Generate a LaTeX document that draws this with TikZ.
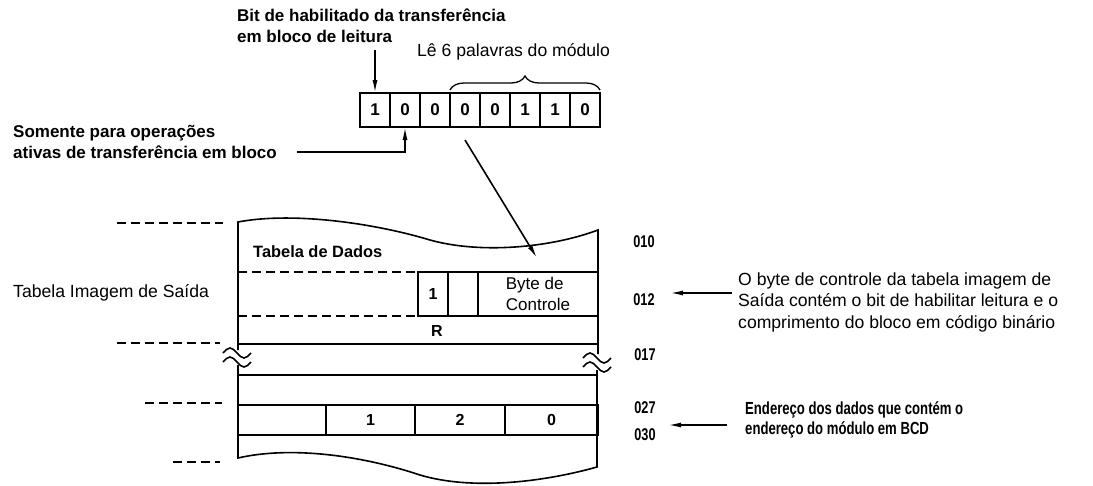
\documentclass[tikz,border=0pt]{standalone}
\usepackage{fontspec}
\setmainfont{Liberation Sans}
\newfontfamily\condfont[FakeStretch=0.75]{Liberation Sans}
\usetikzlibrary{arrows.meta, positioning, calc, decorations.pathreplacing}
\tikzset{
  note/.style={inner sep=0pt, align=left, anchor=west,
               font=\fontsize{17.6}{21.5}\selectfont},
  bnote/.style={note, font=\fontsize{17}{21}\selectfont\bfseries},
  cnote/.style={note, font=\fontsize{17.5}{20}\selectfont\condfont\bfseries},
  addr/.style={inner sep=0pt, font=\fontsize{17}{17}\selectfont\condfont\bfseries},
  bitbox/.style={draw, line width=1.6pt, minimum width=30pt, minimum height=34pt,
                 inner sep=0pt, outer sep=0pt, font=\fontsize{17}{17}\selectfont\bfseries},
  cell/.style={draw, line width=1.6pt, minimum height=30pt, inner sep=0pt, outer sep=0pt,
               font=\fontsize{16}{16}\selectfont\bfseries},
  arrow/.style={-{Latex[length=13pt,width=5pt]}, line width=1.6pt},
  rule/.style={line width=1.6pt},
  dashmark/.style={line width=1.6pt, dash pattern=on 9pt off 5pt},
  breakmark/.pic={
    \draw[line width=1.6pt] (-14,0) sin (-7,-5) cos (0,0) sin (7,5) cos (14,0);
    \draw[line width=1.6pt] (-14,9) sin (-7,4) cos (0,9) sin (7,14) cos (14,9);
  },
}

\begin{document}
\begin{tikzpicture}[x=1pt, y=-1pt]
  \useasboundingbox (0,0) rectangle (1093,485);

  % control word
  \foreach \v [count=\i] in {1,0,0,0,0,1,1,0}
    \node[bitbox] (b\i) at (345+30*\i,110) {\v};
  \draw[decorate, decoration={brace, amplitude=14pt}, line width=1.3pt]
    ([yshift=3pt]b4.north west) -- ([yshift=3pt]b8.north east);

  \node[bnote] (bitnote) at (237,25.5) {Bit de habilitado da transferência\\em bloco de leitura};
  \node[note] (lenote) at (417,52) {Lê 6 palavras do módulo};
  \node[bnote] (somnote) at (13,142) {Somente para operações\\ativas de transferência em bloco};
  \node[note] (outnote) at (13,293) {Tabela Imagem de Saída};

  \coordinate (bitin) at (375,50);
  \coordinate (somout) at (297,152);
  \coordinate (bytein) at (537,258);
  \draw[arrow] (bitin) -- (b1.north);
  \draw[arrow] (somout) -| (b2.south);
  \draw[arrow] ([yshift=-13pt]b4.south) -- (bytein);

  % output image table, torn at top and bottom
  \coordinate (tl) at (238,222);
  \draw[rule] (238,350) -- (tl) .. controls (290,212) and (370,222) .. (430,240)
    .. controls (480,254) and (550,248) .. (598,230) -- (598,354);
  \draw[rule] (238,365) -- (238,458) .. controls (290,446) and (360,455) .. (420,475)
    .. controls (470,490) and (540,483) .. (597,467) -- (597,370);
  \pic at (237,353) {breakmark};
  \pic at (597,358) {breakmark};

  \node[note, font=\fontsize{16.4}{20}\selectfont\bfseries] (datanote) at (253,252) {Tabela de Dados};

  \node[cell, minimum width=30pt, minimum height=44pt] (ctl1) at (433,294) {1};
  \node[cell, minimum width=30pt, minimum height=44pt, right=0pt of ctl1] (ctl2) {};
  \node[cell, minimum width=120pt, minimum height=44pt, right=0pt of ctl2,
        align=left, font=\fontsize{17}{21}\selectfont] (ctlbyte) {Byte de\\Controle};
  \draw[dashmark] (ctl1.north west -| tl) -- (ctl1.north west);
  \draw[dashmark] (ctl1.south west -| tl) -- (ctl1.south west);
  \draw[rule] (238,344) -- (598,344);
  \node[cell, draw=none] (rbit) at (437,331) {R};
  \draw[rule] (238,375) -- (598,375);

  \node[cell, minimum width=88pt] (w0) at (282,420) {};
  \node[cell, minimum width=89pt, right=0pt of w0] (w1) {1};
  \node[cell, minimum width=90pt, right=0pt of w1] (w2) {2};
  \node[cell, minimum width=93pt, right=0pt of w2] (w3) {0};

  % word boundaries on the left
  \draw[dashmark] (117,223) -- (223,223);
  \draw[dashmark] (117,343) -- (220,343);
  \draw[dashmark] (145,403) -- (222,403);
  \draw[dashmark] (173,462) -- (220,462);

  % addresses
  \node[addr] (a010) at (644,242) {010};
  \node[addr] (a012) at (644,300) {012};
  \node[addr] (a017) at (645,355) {017};
  \node[addr] (a027) at (645,408) {027};
  \node[addr] (a030) at (645,435) {030};

  \node[note] (bytenote) at (738,302)
    {O byte de controle da tabela imagem de\\Saída contém o bit de habilitar leitura e o\\comprimento do bloco em código binário};
  \node[cnote] (bcdnote) at (745,420)
    {Endereço dos dados que contém o\\endereço do módulo em BCD};

  \coordinate (ctlfrom) at (732,293);
  \coordinate (ctlto) at (670,293);
  \coordinate (bcdfrom) at (727,425);
  \coordinate (bcdto) at (668,425);
  \draw[arrow] (ctlfrom) -- (ctlto);
  \draw[arrow] (bcdfrom) -- (bcdto);
\end{tikzpicture}
\end{document}
